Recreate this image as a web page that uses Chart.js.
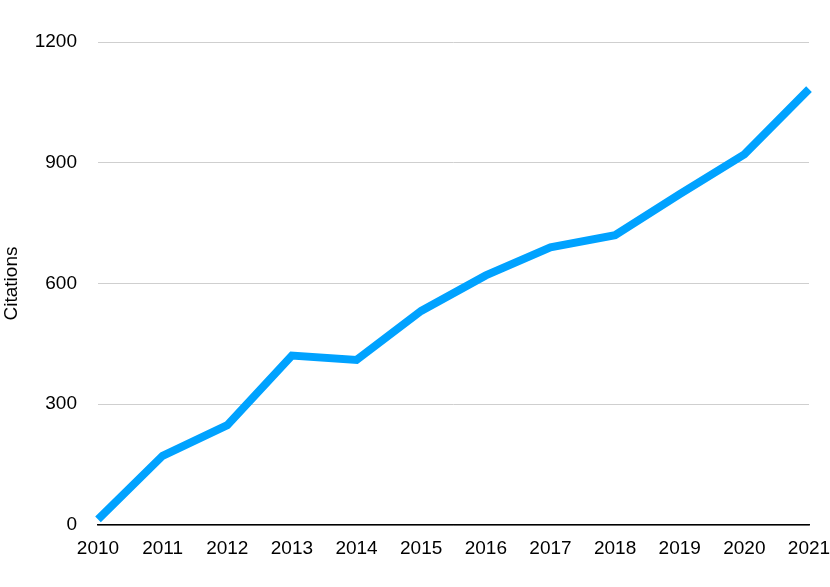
<!DOCTYPE html>
<html>
<head>
<meta charset="utf-8">
<script src="https://cdn.jsdelivr.net/npm/chart.js@4/dist/chart.umd.min.js"></script>
<style>
  html, body { margin: 0; padding: 0; background: #fff; }
  #wrap { width: 830px; height: 587px; position: relative; }
</style>
</head>
<body>
<div id="wrap"><canvas id="citationsChart"></canvas></div>
<script>
// Années et citations
const years = ['2010', '2011', '2012', '2013', '2014', '2015', '2016', '2017', '2018', '2019', '2020', '2021'];
const citations = [14, 172, 248, 421, 410, 532, 620, 690, 720, 822, 921, 1083];
const yTicks = [0, 300, 600, 900, 1200];

const fontFamily = '"Liberation Sans", Arial, Helvetica, sans-serif';

const ctx = document.getElementById('citationsChart').getContext('2d');

new Chart(ctx, {
  type: 'line',
  data: {
    labels: years,
    datasets: [{
      label: 'Citations',
      data: citations,
      borderColor: '#00a2ff',
      borderWidth: 8,
      borderCapStyle: 'butt',
      borderJoinStyle: 'miter',
      tension: 0,
      pointRadius: 0,
      fill: false
    }]
  },
  options: {
    responsive: true,
    maintainAspectRatio: false,
    animation: false,
    layout: {
      padding: { top: 42, right: 21, bottom: 0, left: 0 }
    },
    plugins: {
      legend: { display: false },
      tooltip: { enabled: false }
    },
    scales: {
      x: {
        offset: false,
        grid: { display: false, drawTicks: false },
        border: { display: true, color: '#000', width: 1.5 },
        ticks: {
          color: '#000',
          font: { family: fontFamily, size: 19 },
          padding: 12,
          maxRotation: 0,
          autoSkip: false
        },
        afterFit: function(axis) {
          axis.height = 62;
          // pas de marge supplémentaire pour la dernière étiquette
          axis.paddingRight = 0;
          axis.paddingLeft = 0;
        }
      },
      y: {
        min: 0,
        max: 1200,
        afterBuildTicks: function(axis) {
          axis.ticks = yTicks.map(v => ({ value: v }));
        },
        grid: { color: '#cfcfcf', lineWidth: 1, drawTicks: false },
        border: { display: false },
        ticks: {
          color: '#000',
          font: { family: fontFamily, size: 19 },
          padding: 21,
          callback: function(value) { return String(value); }
        },
        title: {
          display: true,
          text: 'Citations',
          color: '#000',
          font: { family: fontFamily, size: 19 },
          padding: 0
        },
        afterFit: function(axis) {
          axis.width = 98;
          axis.paddingTop = 0;
          axis.paddingBottom = 0;
        }
      }
    }
  }
});
</script>
</body>
</html>
